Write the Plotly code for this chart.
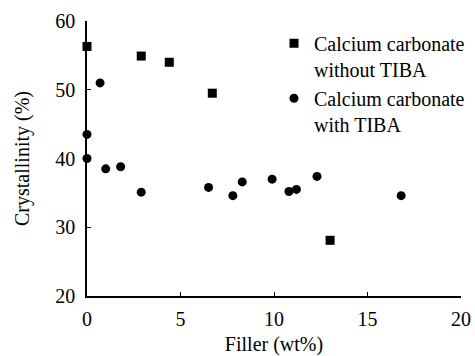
import plotly.graph_objects as go

# Series: Calcium carbonate without TIBA (squares)
x_without = [0.0, 2.9, 4.4, 6.7, 13.0]
y_without = [56.3, 54.9, 54.0, 49.5, 28.1]

# Series: Calcium carbonate with TIBA (circles)
x_with = [0.0, 0.0, 0.7, 1.0, 1.8, 2.9, 6.5, 7.8, 8.3, 9.9, 10.8, 11.2, 12.3, 16.8]
y_with = [43.5, 40.0, 51.0, 38.5, 38.8, 35.1, 35.8, 34.6, 36.6, 37.0, 35.2, 35.5, 37.4, 34.6]

x_ticks = [0, 5, 10, 15, 20]
y_ticks = [20, 30, 40, 50, 60]

FONT = "Liberation Serif"

fig = go.Figure()
fig.add_trace(go.Scatter(
    x=x_without, y=y_without, mode="markers",
    name="Calcium carbonate<br>without TIBA",
    marker=dict(symbol="square", size=9, color="black"),
    cliponaxis=False,
))
fig.add_trace(go.Scatter(
    x=x_with, y=y_with, mode="markers",
    name="Calcium carbonate<br>with TIBA",
    marker=dict(symbol="circle", size=9, color="black"),
    cliponaxis=False,
))

axis_common = dict(
    showgrid=False, zeroline=False, showline=True, linecolor="black", linewidth=1.5,
    ticks="inside", ticklen=4, tickwidth=1, tickcolor="black",
    tickfont=dict(family=FONT, size=20, color="black"),
    mirror=False, automargin=False,
)

fig.update_layout(
    width=475, height=356,
    margin=dict(l=87, r=14, t=21, b=60, autoexpand=False),
    paper_bgcolor="white", plot_bgcolor="white",
    font=dict(family=FONT, size=20, color="black"),
    xaxis=dict(range=[0, 20], tickvals=x_ticks, ticklabelstandoff=4,
               title=dict(text="Filler (wt%)", font=dict(family=FONT, size=20), standoff=8),
               **axis_common),
    yaxis=dict(range=[20, 60], tickvals=y_ticks, ticklabelstandoff=6,
               title=dict(text="Crystallinity (%)", font=dict(family=FONT, size=20), standoff=20),
               **axis_common),
    legend=dict(x=0.5, y=0.99, xanchor="left", yanchor="top",
                font=dict(family=FONT, size=20, color="black"),
                bgcolor="rgba(0,0,0,0)", valign="top", itemwidth=30,
                tracegroupgap=0),
    showlegend=True,
)

fig.write_html(
    "out.html",
    config={"displayModeBar": False},
    post_script="document.body.style.margin='0';document.body.style.overflow='hidden';",
)
